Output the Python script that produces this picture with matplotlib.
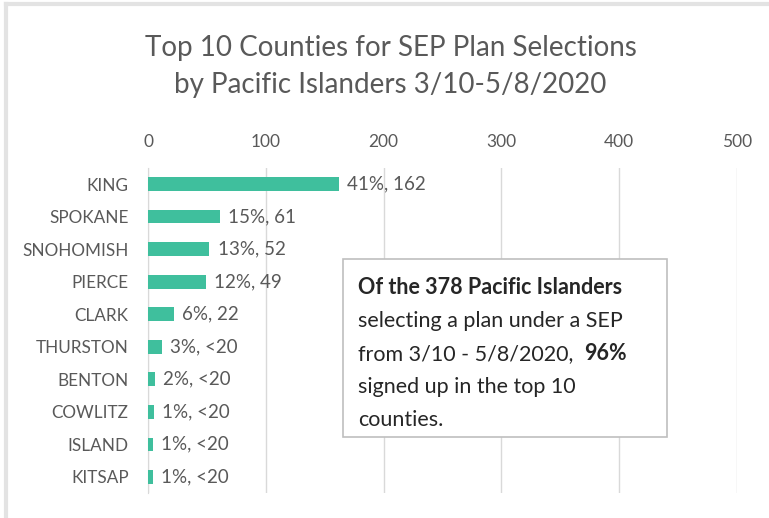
import matplotlib
matplotlib.use('Agg')
import matplotlib.pyplot as plt
from matplotlib.patches import Rectangle
from matplotlib.lines import Line2D

plt.rcParams['font.family'] = ['Lato', 'DejaVu Sans']

# data
counties = ['KING', 'SPOKANE', 'SNOHOMISH', 'PIERCE', 'CLARK',
            'THURSTON', 'BENTON', 'COWLITZ', 'ISLAND', 'KITSAP']
counts = [162, 61, 52, 49, 22, 12, 6, 5, 4, 4]
labels = ['41%, 162', '15%, 61', '13%, 52', '12%, 49', '6%, 22',
          '3%, <20', '2%, <20', '1%, <20', '1%, <20', '1%, <20']
xticks = [0, 100, 200, 300, 400, 500]

bar_color = '#3fbf9d'
text_gray = '#595959'
grid_gray = '#d9d9d9'

fig = plt.figure(figsize=(7.69, 5.18), dpi=100)
ax = fig.add_axes([0.1925, 0.048, 0.7655, 0.628])

y = list(range(len(counties)))
ax.barh(y, counts, height=0.42, color=bar_color, zorder=3)
ax.set_ylim(len(counties) - 0.5, -0.5)
ax.set_xlim(0, 500)
ax.set_xticks(xticks)
ax.xaxis.tick_top()
ax.tick_params(axis='x', length=0, pad=13, labelsize=12.5, labelcolor=text_gray)
ax.set_yticks(y)
ax.set_yticklabels(counties)
ax.tick_params(axis='y', length=0, pad=14, labelsize=12.3, labelcolor=text_gray)
ax.grid(axis='x', color=grid_gray, linewidth=1, zorder=0)
for s in ['top', 'right', 'bottom']:
    ax.spines[s].set_visible(False)
ax.spines['left'].set_color(grid_gray)

for yi, v, lab in zip(y, counts, labels):
    ax.annotate(lab, (v, yi), xytext=(6, 0), textcoords='offset points',
                va='center', ha='left', fontsize=13.5, color=text_gray)

# title
fig.text(0.508, 0.908, 'Top 10 Counties for SEP Plan Selections', ha='center',
         va='center', fontsize=20, color=text_gray)
fig.text(0.508, 0.835, 'by Pacific Islanders 3/10-5/8/2020', ha='center',
         va='center', fontsize=20, color=text_gray)

# outer border (top and left only)
fig.add_artist(Line2D([0.008, 1], [0.992, 0.992], color='#e3e3e3', lw=3,
                      transform=fig.transFigure))
fig.add_artist(Line2D([0.008, 0.008], [0.0, 0.992], color='#e3e3e3', lw=3,
                      transform=fig.transFigure))

# text box
bx0, by0, bx1, by1 = 343 / 769, 1 - 437 / 518, 667 / 769, 1 - 259 / 518
fig.add_artist(Rectangle((bx0, by0), bx1 - bx0, by1 - by0, transform=fig.transFigure,
                         facecolor='white', edgecolor='#bfbfbf', lw=1.2, zorder=5))

tx = 358 / 769
line_y = [288, 321, 354, 387, 420]
box_lines = [
    [('Of the 378 Pacific Islanders', 'bold')],
    [('selecting a plan under a SEP', 'normal')],
    [('from 3/10 - 5/8/2020,  ', 'normal'), ('96%', 'bold')],
    [('signed up in the top 10', 'normal')],
    [('counties.', 'normal')],
]
fig.canvas.draw()
renderer = fig.canvas.get_renderer()
for ly, parts in zip(line_y, box_lines):
    x = tx
    for txt, w in parts:
        t = fig.text(x, 1 - ly / 518, txt, ha='left', va='center', fontsize=15.5,
                     fontweight=w, color='#262626', zorder=6)
        bb = t.get_window_extent(renderer)
        x = x + bb.width / fig.bbox.width

fig.savefig('out.png', dpi=100)
